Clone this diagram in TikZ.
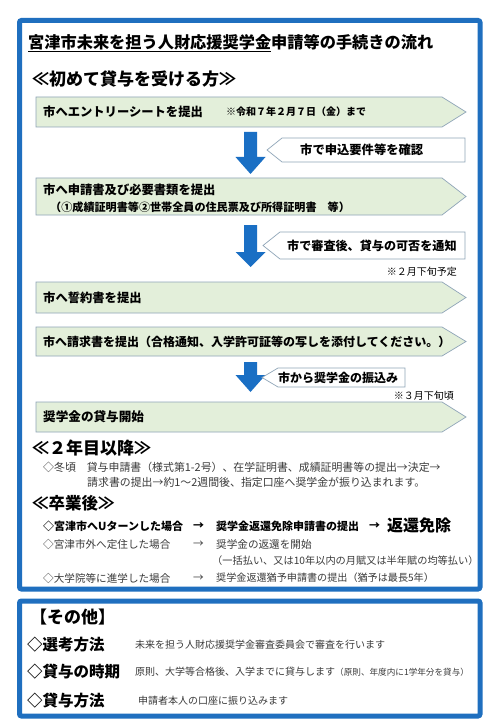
\documentclass[tikz,border=0pt]{standalone}
\usepackage{fontspec}
\setmainfont{Noto Sans CJK JP}
\definecolor{frameblue}{HTML}{1F6FBF}
\definecolor{arrowblue}{HTML}{1A6FC4}
\definecolor{boxgreen}{HTML}{E3EFDA}
\definecolor{boxline}{HTML}{8FA5B8}
\definecolor{txtgray}{HTML}{3A3A3A}
\newcommand\chevshape[2]{\draw[chevbox] (36,#1) -- (442,#1) -- (466,{(#1+#2)/2}) -- (442,#2) -- (36,#2) -- cycle;}
\newcommand\blockarrow[3]{\fill[arrowblue] (244,#1) -- (257,#1) -- (257,#2) -- (265.5,#2) -- (250.5,#3) -- (235.5,#2) -- (244,#2) -- cycle;}
\newcommand\calloutshape[5]{\draw[callbox] (#1,{(#4+#5)/2}) -- (#2,#4) -- (#3,#4) -- (#3,#5) -- (#2,#5) -- cycle;}
\begin{document}
\begin{tikzpicture}[x=1pt,y=-1pt,
  frame/.style={draw=frameblue,line width=5pt,rounded corners=2pt},
  chevbox/.style={draw=boxline,fill=boxgreen,line width=0.7pt},
  callbox/.style={draw=boxline,fill=white,line width=0.7pt},
  txt/.style={inner sep=0pt,anchor=west,text=black},
  boxtxt/.style={txt,font=\bfseries\fontsize{12.3}{14}\selectfont},
  note/.style={txt,font=\bfseries\fontsize{10}{12}\selectfont},
  head/.style={txt,font=\bfseries\fontsize{17}{20}\selectfont},
  body/.style={txt,text=txtgray,font=\fontsize{10.6}{12}\selectfont},
  bodyb/.style={txt,font=\bfseries\fontsize{11}{13}\selectfont},
  lab/.style={txt,font=\bfseries\fontsize{15.5}{18}\selectfont},
  desc/.style={txt,text=txtgray,font=\fontsize{10}{12}\selectfont}]
\useasboundingbox (0,0) rectangle (500,722);
\fill[white] (0,0) rectangle (500,722);
% frames
\draw[frame] (19.5,20.5) rectangle (480,589);
\draw[frame] (19.5,601) rectangle (480,716);
% title
\node[txt,font=\bfseries\fontsize{16.2}{19}\selectfont] (title) at (28,43) {\underline{宮津市未来を担う人財応援奨学金}申請等の手続きの流れ};
\node[head] (first) at (32,79) {≪初めて貸与を受ける方≫};
% step boxes
\chevshape{97}{127}
\chevshape{178}{215}
\chevshape{282}{313}
\chevshape{327}{356}
\chevshape{402}{432}
\node[boxtxt] (s1) at (43,112) {市へエントリーシートを提出};
\node[note] (s1n) at (226,112) {※令和７年２月７日（金）まで};
\node[boxtxt] (s2) at (43,190) {市へ申請書及び必要書類を提出};
\node[txt,font=\bfseries\fontsize{11.1}{12}\selectfont] (s2n) at (50,207) {（①成績証明書等②世帯全員の住民票及び所得証明書　等）};
\node[boxtxt] (s3) at (43,297.5) {市へ誓約書を提出};
\node[txt,font=\bfseries\fontsize{12}{14}\selectfont] (s4) at (43,342) {市へ請求書を提出（合格通知、入学許可証等の写しを添付してください。）};
\node[boxtxt,font=\bfseries\fontsize{12.6}{14}\selectfont] (s5) at (43,417) {奨学金の貸与開始};
% blue arrows
\blockarrow{132}{157}{174}
\blockarrow{225}{252}{267}
\blockarrow{362}{375}{392}
% callouts
\calloutshape{267}{282}{465}{138}{162}
\calloutshape{263}{280}{465}{232}{259}
\calloutshape{262}{278}{405}{368}{387}
\node[boxtxt] (c1) at (300,150) {市で申込要件等を確認};
\node[boxtxt,font=\bfseries\fontsize{12.1}{14}\selectfont] (c2) at (287,245.5) {市で審査後、貸与の可否を通知};
\node[boxtxt,font=\bfseries\fontsize{12}{14}\selectfont] (c3) at (278,377.5) {市から奨学金の振込み};
\node[note,anchor=east,font=\fontsize{10}{12}\selectfont] (n2) at (457,272) {※２月下旬予定};
\node[note,anchor=east,font=\fontsize{10}{12}\selectfont] (n3) at (454,396) {※３月下旬頃};
% second year
\node[head] (year2) at (32,448) {≪２年目以降≫};
\node[body,font=\fontsize{10.9}{12}\selectfont] (w1) at (43,467) {◇冬頃　貸与申請書（様式第1-2号）、在学証明書、成績証明書等の提出→決定→};
\node[body,font=\fontsize{10.9}{12}\selectfont] (w2) at (87,482) {請求書の提出→約1～2週間後、指定口座へ奨学金が振り込まれます。};
% after graduation
\node[head,font=\bfseries\fontsize{16.5}{20}\selectfont] (grad) at (32,503) {≪卒業後≫};
\node[bodyb] (g1) at (43,526) {◇宮津市へUターンした場合};
\node[bodyb] (g1a) at (193,526) {→};
\node[bodyb] (g1b) at (216,526) {奨学金返還免除申請書の提出};
\node[bodyb] (g1c) at (369,526) {→};
\node[txt,font=\bfseries\fontsize{16}{18}\selectfont] (g1d) at (387,525) {返還免除};
\node[body] (g2) at (43,544) {◇宮津市外へ定住した場合};
\node[body] (g2a) at (193,544) {→};
\node[body] (g2b) at (216,544) {奨学金の返還を開始};
\node[body,font=\fontsize{10.2}{12}\selectfont] (g2c) at (212,561) {（一括払い、又は10年以内の月賦又は半年賦の均等払い）};
\node[body] (g3) at (43,578) {◇大学院等に進学した場合};
\node[body] (g3a) at (193,578) {→};
\node[body,font=\fontsize{10.1}{12}\selectfont] (g3b) at (216,578) {奨学金返還猶予申請書の提出（猶予は最長5年）};
% other
\node[head] (other) at (30,617) {【その他】};
\node[lab] (o1) at (27,645) {◇選考方法};
\node[desc] (o1d) at (135,645) {未来を担う人財応援奨学金審査委員会で審査を行います};
\node[lab] (o2) at (27,672) {◇貸与の時期};
\node[desc] (o2d) at (135,672) {原則、大学等合格後、入学までに貸与します\fontsize{8.6}{9}\selectfont（原則、年度内に1学年分を貸与）};
\node[lab] (o3) at (27,701) {◇貸与方法};
\node[desc] (o3d) at (138,701) {申請者本人の口座に振り込みます};
\end{tikzpicture}
\end{document}
